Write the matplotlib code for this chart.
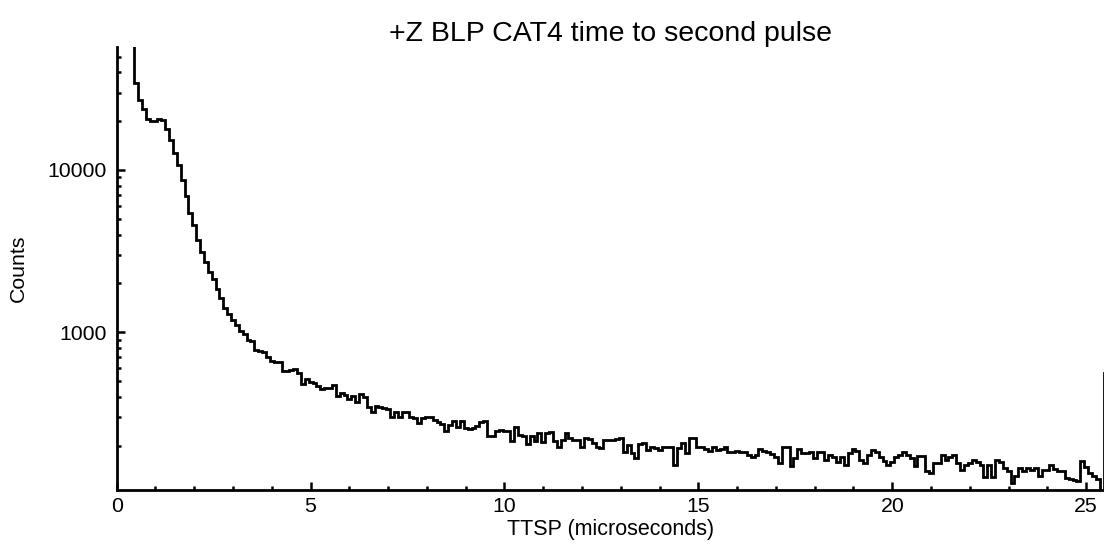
import matplotlib
matplotlib.use("Agg")
import matplotlib.pyplot as plt
import matplotlib.ticker as mticker
import numpy as np

plt.rcParams['font.family'] = ['Liberation Sans', 'DejaVu Sans']

# histogram binning (microseconds)
first_edge = 0.35
bin_width = 0.1

# counts per 0.1 us bin, first bin (0.35-0.45) is off the top of the plot
counts = [
    90000,
    34500, 27000, 23600, 20600, 20100, 20100, 20700, 20300, 17800, 15200,
    12800, 10700, 8680, 6950, 5460, 4580, 3700, 3110, 2720, 2360,
    2120, 1840, 1620, 1410, 1300, 1190, 1110, 1020, 976, 896,
    888, 778, 768, 760, 707, 668, 659, 652, 580, 580,
    586, 591, 564, 478, 513, 496, 484, 466, 446, 452,
    452, 473, 405, 425, 410, 389, 402, 374, 415, 397,
    345, 322, 351, 345, 341, 338, 302, 323, 302, 324,
    324, 302, 298, 275, 295, 302, 299, 288, 278, 273,
    245, 269, 282, 260, 282, 257, 253, 257, 263, 278,
    282, 228, 228, 245, 249, 245, 245, 214, 260, 233,
    228, 206, 228, 213, 240, 211, 240, 242, 214, 197,
    217, 239, 224, 217, 217, 197, 222, 220, 207, 197,
    193, 217, 217, 217, 220, 222, 184, 202, 180, 167,
    204, 207, 188, 197, 193, 188, 195, 195, 195, 152,
    193, 207, 180, 222, 224, 197, 195, 191, 185, 195,
    188, 190, 197, 182, 184, 186, 182, 183, 176, 171,
    176, 190, 186, 182, 177, 171, 156, 197, 197, 151,
    167, 192, 180, 180, 184, 167, 184, 184, 163, 176,
    171, 159, 171, 152, 180, 190, 186, 163, 157, 176,
    188, 184, 171, 162, 153, 159, 171, 176, 182, 176,
    167, 149, 173, 173, 139, 136, 156, 157, 176, 163,
    171, 176, 156, 142, 153, 156, 163, 159, 153, 129,
    153, 129, 163, 159, 145, 139, 117, 131, 146, 139,
    146, 142, 146, 131, 141, 142, 153, 144, 139, 139,
    126, 125, 123, 122, 160, 148, 136, 130, 124, 100,
    560,
]

x_ticks = [0, 5, 10, 15, 20, 25]
y_ticks = [1000, 10000]

edges = first_edge + bin_width * np.arange(len(counts) + 1)

fig = plt.figure(figsize=(11.04, 5.46), dpi=100)
ax = fig.add_axes([0.1057, 0.1026, 0.8943, 0.8119])

ax.stairs(counts, edges, baseline=None, color='black', linewidth=2.0)

ax.set_yscale('log')
ax.set_xlim(0, 25.46)
ax.set_ylim(106.7, 57500)

# only left and bottom axes, ticks pointing in
for side in ['top', 'right']:
    ax.spines[side].set_visible(False)
for side in ['left', 'bottom']:
    ax.spines[side].set_linewidth(2.0)

ax.set_xticks(x_ticks)
ax.xaxis.set_minor_locator(mticker.MultipleLocator(1))
ax.set_yticks(y_ticks)
ax.yaxis.set_major_formatter(mticker.FormatStrFormatter('%d'))
ax.yaxis.set_minor_locator(mticker.LogLocator(base=10, subs=np.arange(2, 10)))
ax.yaxis.set_minor_formatter(mticker.NullFormatter())

ax.tick_params(which='both', direction='in', width=1.8, colors='black', labelsize=15.3)
ax.tick_params(which='major', length=6)
ax.tick_params(which='minor', length=3)
ax.tick_params(axis='x', which='major', pad=5)
ax.tick_params(axis='y', which='major', pad=7)

ax.set_xlabel('TTSP (microseconds)', fontsize=15.5, labelpad=2)
ax.set_ylabel('Counts', fontsize=15.3, labelpad=14)
ax.set_title('+Z BLP CAT4 time to second pulse', fontsize=20.5, pad=4)

fig.savefig('out.png', dpi=100)
